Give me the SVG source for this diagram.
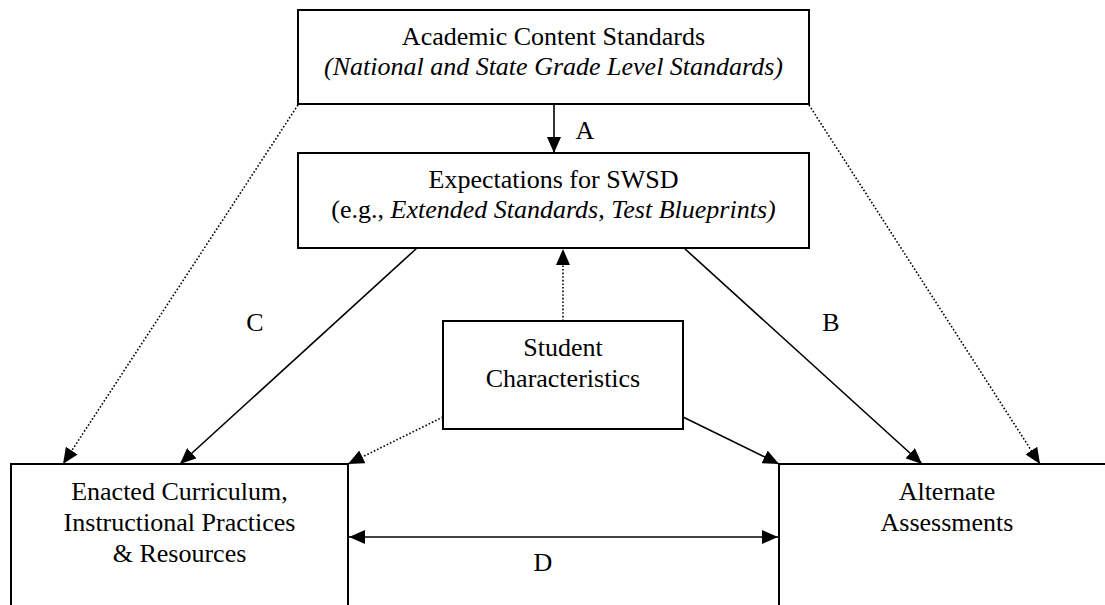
<svg xmlns="http://www.w3.org/2000/svg" width="1105" height="605" viewBox="0 0 1105 605">
  <style>
    .box { fill: #ffffff; stroke: #000000; stroke-width: 2; }
    .t { font-family: "Liberation Serif", Tinos, "Times New Roman", Times, "Nimbus Roman", "FreeSerif", "DejaVu Serif", serif; font-size: 26px; fill: #000000; text-anchor: middle; }
    .i { font-style: italic; }
    .solid { stroke: #000000; stroke-width: 1.6; fill: none; }
    .dot { stroke: #000000; stroke-width: 1.6; fill: none; stroke-dasharray: 1.6 2; }
  </style>
  <defs>
    <marker id="ah" markerUnits="userSpaceOnUse" markerWidth="17" markerHeight="14" refX="16" refY="7" orient="auto">
      <path d="M0,0 L16,7 L0,14 z" fill="#000000"/>
    </marker>
    <marker id="ahs" markerUnits="userSpaceOnUse" markerWidth="17" markerHeight="14" refX="16" refY="7" orient="auto-start-reverse">
      <path d="M0,0 L16,7 L0,14 z" fill="#000000"/>
    </marker>
  </defs>
  <rect width="1105" height="605" fill="#ffffff"/>

  <g id="connectors">
    <line class="solid" x1="554" y1="104" x2="554" y2="153" marker-end="url(#ah)"/>
    <line class="dot" x1="298" y1="105" x2="63" y2="464" marker-end="url(#ah)"/>
    <line class="dot" x1="809" y1="105" x2="1040" y2="464" marker-end="url(#ah)"/>
    <line class="solid" x1="417" y1="248" x2="180" y2="464" marker-end="url(#ah)"/>
    <line class="solid" x1="684" y1="248" x2="922" y2="464" marker-end="url(#ah)"/>
    <line class="dot" x1="563" y1="321" x2="563" y2="249" marker-end="url(#ah)"/>
    <line class="dot" x1="443" y1="417" x2="348" y2="464" marker-end="url(#ah)"/>
    <line class="solid" x1="683" y1="417" x2="779" y2="464" marker-end="url(#ah)"/>
    <line class="solid" x1="349" y1="537" x2="778" y2="537" marker-start="url(#ahs)" marker-end="url(#ah)"/>
    <text class="t" x="585" y="139">A</text>
    <text class="t" x="255" y="331">C</text>
    <text class="t" x="831" y="331">B</text>
    <text class="t" x="543" y="571">D</text>
  </g>

  <g id="academic-standards">
    <rect class="box" x="298" y="10" width="511" height="94"/>
    <text class="t" x="553.5" y="45">Academic Content Standards</text>
    <text class="t i" x="553.5" y="75">(National and State Grade Level Standards)</text>
  </g>

  <g id="expectations">
    <rect class="box" x="298" y="153" width="511" height="95"/>
    <text class="t" x="553.5" y="188">Expectations for SWSD</text>
    <text class="t" x="553.5" y="218">(e.g., <tspan class="i">Extended Standards, Test Blueprints)</tspan></text>
  </g>

  <g id="student-characteristics">
    <rect class="box" x="443" y="321" width="240" height="108"/>
    <text class="t" x="563" y="356">Student</text>
    <text class="t" x="563" y="387">Characteristics</text>
  </g>

  <g id="enacted-curriculum">
    <rect class="box" x="11" y="464" width="337" height="160"/>
    <text class="t" x="179.5" y="500">Enacted Curriculum,</text>
    <text class="t" x="179.5" y="531">Instructional Practices</text>
    <text class="t" x="179.5" y="562">&amp; Resources</text>
  </g>

  <g id="alternate-assessments">
    <rect class="box" x="779" y="464" width="350" height="160"/>
    <text class="t" x="947" y="500">Alternate</text>
    <text class="t" x="947" y="531">Assessments</text>
  </g>
</svg>
